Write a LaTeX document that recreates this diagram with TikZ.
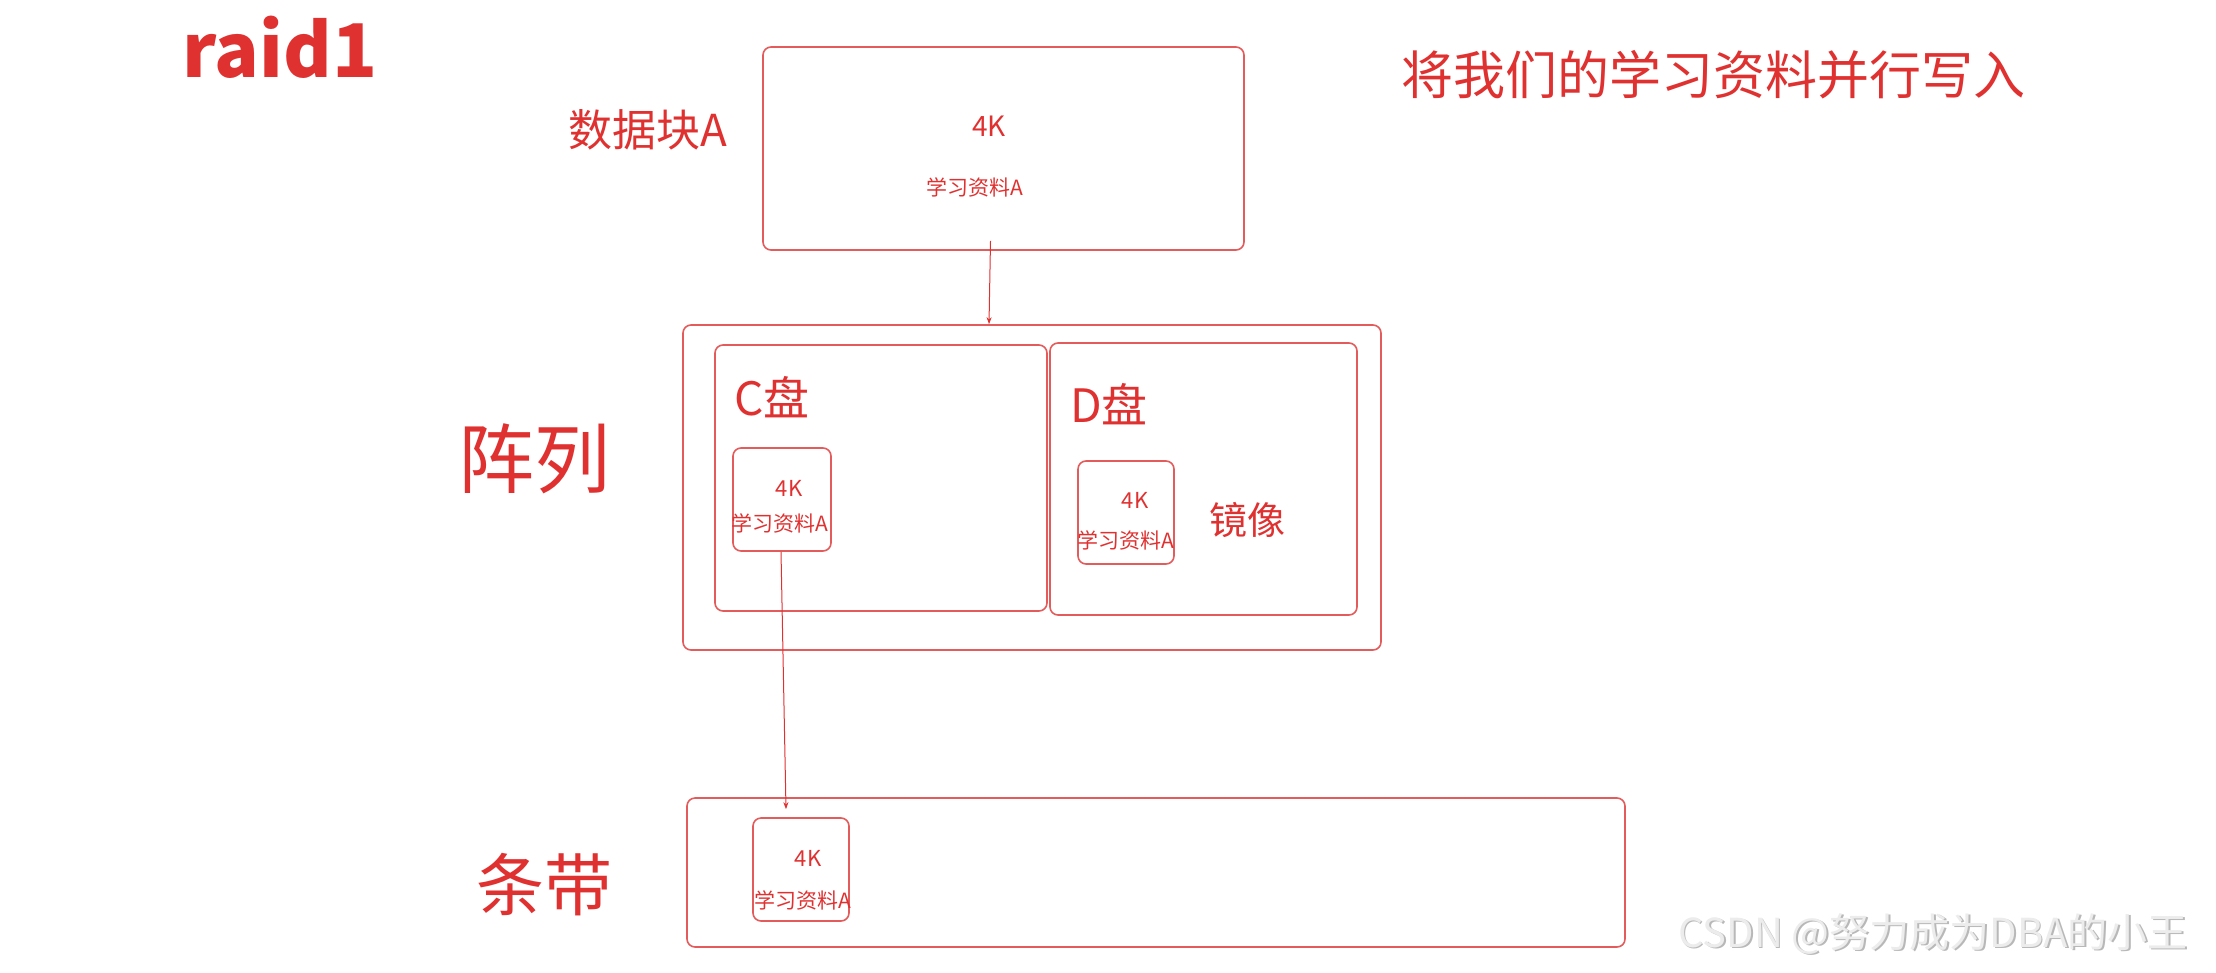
\documentclass[tikz,border=0pt]{standalone}
\usepackage{fontspec}
\setmainfont{Noto Sans CJK SC}
\usetikzlibrary{arrows.meta}
\definecolor{xred}{HTML}{E03131}
\definecolor{boxred}{HTML}{E35B5B}
\definecolor{wmgray}{HTML}{ECECEC}
\definecolor{wmshadow}{HTML}{B8B8B8}
\tikzset{
  rbox/.style={draw=boxred, line width=1.6pt, rounded corners=8pt, inner sep=0pt},
  lbl/.style={text=xred, inner sep=0pt, font=#1},
  arr/.style={draw=xred, line width=1pt, -{Stealth[length=7pt,width=5pt]}},
}
\begin{document}
\begin{tikzpicture}[x=1pt,y=-1pt]
\useasboundingbox (0,0) rectangle (2216,972);
% boxes
\node[rbox, minimum width=481pt, minimum height=203pt] (top) at (1003.5,148.5) {};
\node[rbox, minimum width=698pt, minimum height=325pt] (array) at (1032,487.5) {};
\node[rbox, minimum width=332pt, minimum height=266pt] (cdisk) at (881,478) {};
\node[rbox, minimum width=307pt, minimum height=272pt] (ddisk) at (1203.5,479) {};
\node[rbox, minimum width=98pt, minimum height=103pt] (csmall) at (782,499.5) {};
\node[rbox, minimum width=96pt, minimum height=103pt] (dsmall) at (1126,512.5) {};
\node[rbox, minimum width=938pt, minimum height=149pt] (strip) at (1156,872.5) {};
\node[rbox, minimum width=96pt, minimum height=103pt] (ssmall) at (801,869.5) {};
% labels
\node[lbl=\fontsize{74}{74}\selectfont\bfseries] (raid) at (280,47) {raid1};
\node[lbl=\fontsize{52}{52}\selectfont] (title) at (1713,75) {将我们的学习资料并行写入};
\node[lbl=\fontsize{44}{44}\selectfont] (blk) at (648,130) {数据块A};
\node[lbl=\fontsize{28}{28}\selectfont] (k1) at (989,126) {4K};
\node[lbl=\fontsize{21}{21}\selectfont] (m1) at (975,187) {学习资料A};
\node[lbl=\fontsize{46}{46}\selectfont] (clbl) at (772,397) {C盘};
\node[lbl=\fontsize{46}{46}\selectfont] (dlbl) at (1109,404) {D盘};
\node[lbl=\fontsize{22}{22}\selectfont] (k2) at (789,488) {4K};
\node[lbl=\fontsize{21}{21}\selectfont] (m2) at (780,523) {学习资料A};
\node[lbl=\fontsize{22}{22}\selectfont] (k3) at (1135,500) {4K};
\node[lbl=\fontsize{21}{21}\selectfont] (m3) at (1126,540) {学习资料A};
\node[lbl=\fontsize{38}{38}\selectfont] (mirror) at (1247,520) {镜像};
\node[lbl=\fontsize{76}{76}\selectfont] (zl) at (534,459) {阵列};
\node[lbl=\fontsize{68}{68}\selectfont] (td) at (544,885) {条带};
\node[lbl=\fontsize{22}{22}\selectfont] (k4) at (808,858) {4K};
\node[lbl=\fontsize{21}{21}\selectfont] (m4) at (803,900) {学习资料A};
% watermark
\node[text=wmshadow, inner sep=0pt, font=\fontsize{40}{40}\selectfont] at (1934.5,935.5) {CSDN @努力成为DBA的小王};
\node[text=wmgray, inner sep=0pt, font=\fontsize{40}{40}\selectfont] (wm) at (1933,934) {CSDN @努力成为DBA的小王};
% arrows
\draw[arr] ([xshift=-13pt,yshift=10pt]top.south) -- ([xshift=-43pt]array.north);
\draw[arr] ([xshift=-1pt]csmall.south) -- ([xshift=-15pt,yshift=8pt]ssmall.north);
\end{tikzpicture}
\end{document}
